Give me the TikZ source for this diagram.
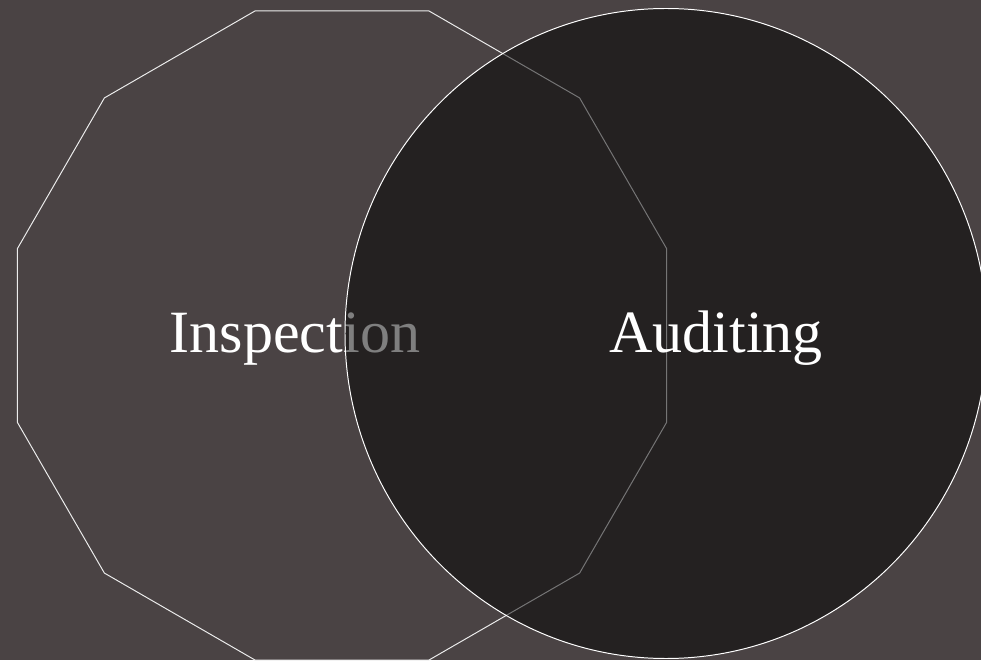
\documentclass[tikz,border=0pt]{standalone}
\usepackage{fontspec}
\setmainfont{Liberation Serif}
\usetikzlibrary{shapes.geometric}
\definecolor{bgcolor}{RGB}{74,67,68}

\begin{document}
\begin{tikzpicture}[
font=\fontsize{42.7}{50}\selectfont,
backdrop/.style={
fill=bgcolor
},
polyset/.style={
regular polygon,
regular polygon sides=12,
draw=white!85!gray,
line width=0.7pt,
inner sep=0pt,
outer sep=0pt,
minimum size=16.8cm
},
roundset/.style={
ellipse,
draw=white,
line width=0.7pt,
fill=black,
fill opacity=0.5,
draw opacity=1,
inner sep=0pt,
outer sep=0pt,
minimum width=16.05cm,
minimum height=16.25cm
},
label/.style={
text=white,
anchor=base,
inner sep=0pt
}
]

\useasboundingbox (0,0) rectangle (24.525,16.5);
\fill[backdrop] (0,0) rectangle (24.525,16.5);

\node[polyset] (inspect) at (8.55,8.1125) {};

\node[label] (inspecttext) at (7.375,7.7) {Inspection};

\node[roundset] (audit) at (16.65,8.1625) {};

\node[label] (audittext) at (17.9,7.7) {Auditing};

\end{tikzpicture}
\end{document}
